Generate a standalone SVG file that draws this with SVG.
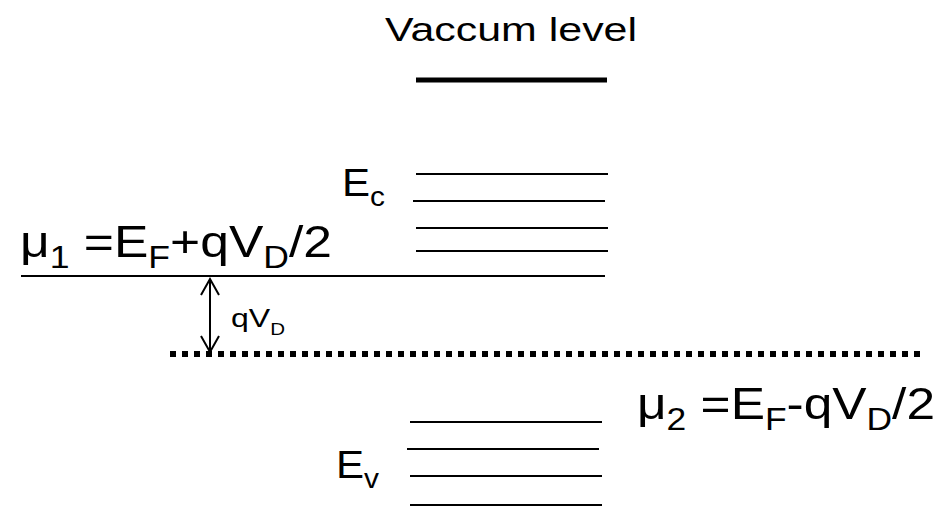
<svg xmlns="http://www.w3.org/2000/svg" width="952" height="507" viewBox="0 0 952 507">
<style>
.t{font-family:"Liberation Sans",Arial,sans-serif;fill:#000}
.lv{stroke:#000;stroke-width:2;fill:none}
.ar{stroke:#000;stroke-width:2;fill:none}
</style>
<rect width="952" height="507" fill="#fff"/>
<g id="vacuum">
<text class="t" x="385" y="41" font-size="33" textLength="252" lengthAdjust="spacingAndGlyphs">Vaccum level</text>
<line x1="416" y1="80" x2="607" y2="80" stroke="#000" stroke-width="5"/>
</g>
<g id="conduction">
<text class="t" x="342" y="196" font-size="38" textLength="43" lengthAdjust="spacingAndGlyphs">E<tspan font-size="27" dy="10">c</tspan></text>
<line class="lv" x1="416" y1="174" x2="608" y2="174"/>
<line class="lv" x1="413" y1="201" x2="605" y2="201"/>
<line class="lv" x1="416" y1="228" x2="608" y2="228"/>
<line class="lv" x1="416" y1="251" x2="608" y2="251"/>
</g>
<g id="mu1">
<text class="t" x="20" y="257" font-size="45" textLength="312" lengthAdjust="spacingAndGlyphs">μ<tspan font-size="31" dy="11">1</tspan><tspan dy="-11"> =E</tspan><tspan font-size="31" dy="11">F</tspan><tspan dy="-11">+qV</tspan><tspan font-size="31" dy="11">D</tspan><tspan dy="-11">/2</tspan></text>
<line class="lv" x1="21" y1="276" x2="605" y2="276"/>
</g>
<g id="mu2">
<line x1="170" y1="354" x2="922" y2="354" stroke="#000" stroke-width="6" stroke-dasharray="6 6"/>
<text class="t" x="637" y="419" font-size="45" textLength="298" lengthAdjust="spacingAndGlyphs">μ<tspan font-size="31" dy="11">2</tspan><tspan dy="-11"> =E</tspan><tspan font-size="31" dy="11">F</tspan><tspan dy="-11">-qV</tspan><tspan font-size="31" dy="11">D</tspan><tspan dy="-11">/2</tspan></text>
</g>
<g id="valence">
<text class="t" x="336" y="478" font-size="38" textLength="43" lengthAdjust="spacingAndGlyphs">E<tspan font-size="27" dy="10">v</tspan></text>
<line class="lv" x1="410" y1="422" x2="602" y2="422"/>
<line class="lv" x1="407" y1="449" x2="599" y2="449"/>
<line class="lv" x1="410" y1="476" x2="602" y2="476"/>
<line class="lv" x1="410" y1="505" x2="602" y2="505"/>
</g>
<g id="connectors">
<line class="ar" x1="210" y1="279" x2="210" y2="352"/>
<polyline class="ar" points="201,295 210,279 219,295"/>
<polyline class="ar" points="201,336 210,352 219,336"/>
</g>
<g id="qvd">
<text class="t" x="231" y="327" font-size="25" textLength="54" lengthAdjust="spacingAndGlyphs">qV<tspan font-size="16" dy="8">D</tspan></text>
</g>
</svg>
